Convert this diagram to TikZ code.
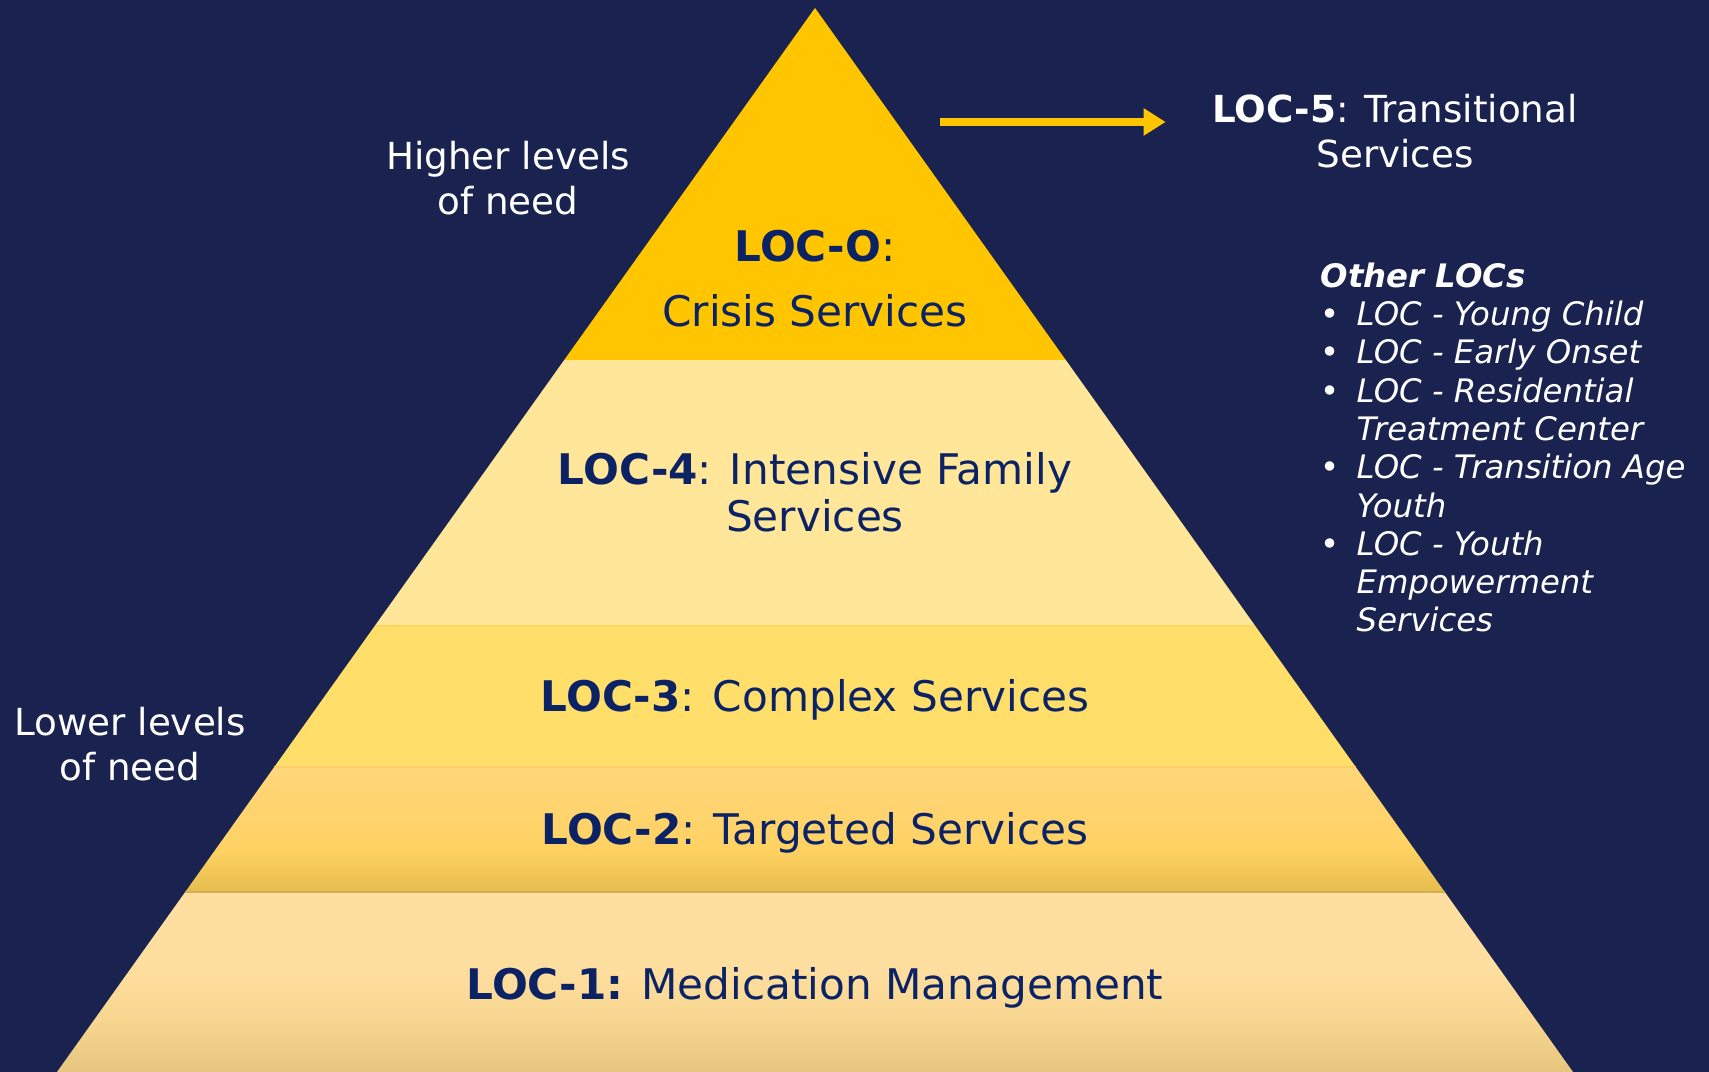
\documentclass[tikz,border=0pt]{standalone}
\usepackage{fontspec}
\setmainfont{DejaVu Sans}
\usetikzlibrary{calc, arrows.meta}

\definecolor{navy}{HTML}{1A2350}
\definecolor{locblue}{HTML}{0B2264}
\definecolor{gold}{HTML}{FFC600}
\definecolor{loc4fill}{HTML}{FFE699}
\definecolor{loc3fill}{HTML}{FFDE6A}
\definecolor{loc2top}{HTML}{FFD67A}
\definecolor{loc2mid}{HTML}{FFD262}
\definecolor{loc2bot}{HTML}{E6BC4E}
\definecolor{loc1top}{HTML}{FFDFA0}
\definecolor{loc1mid}{HTML}{F8D791}
\definecolor{loc1bot}{HTML}{E6C67E}

% band shadings (path spans 25bp..75bp)
\pgfdeclareverticalshading{loctwo}{100bp}{color(0bp)=(loc2bot); color(25bp)=(loc2bot);
    color(42bp)=(loc2mid); color(60bp)=(loc2top!60!loc2mid); color(75bp)=(loc2top); color(100bp)=(loc2top)}
\pgfdeclareverticalshading{locone}{100bp}{color(0bp)=(loc1bot); color(25bp)=(loc1bot);
    color(40bp)=(loc1mid); color(55bp)=(loc1top); color(75bp)=(loc1top); color(100bp)=(loc1top)}

\begin{document}
\begin{tikzpicture}[
    tier/.style={text=locblue, align=center, inner sep=0pt, font=\fontsize{12pt}{13.4pt}\selectfont},
    sidetext/.style={text=white, align=center, inner sep=0pt, font=\fontsize{10.6pt}{12.7pt}\selectfont},
    loclist/.style={text=white, align=left, inner sep=0pt, font=\fontsize{9.2pt}{10.9pt}\selectfont\itshape},
    sep/.style={line width=0.4pt},
    goldarrow/.style={gold, line width=2.3pt, -{Triangle[length=0.22cm, width=0.26cm]}}
]
    \useasboundingbox (0,0) rectangle (17.09,10.72);
    \fill[navy] (0,0) rectangle (17.09,10.72);

    % pyramid corners and band edges
    \coordinate (top) at (8.15,10.64);
    \coordinate (bl) at (0.57,0);
    \coordinate (br) at (15.73,0);
    \foreach \t/\n in {0.1692/1, 0.2867/2, 0.4192/3, 0.6692/4} {
        \coordinate (l\n) at ($(bl)!\t!(top)$);
        \coordinate (r\n) at ($(br)!\t!(top)$);
    }

    \shade[shading=locone] (bl) -- (br) -- (r1) -- (l1) -- cycle;
    \shade[shading=loctwo] (l1) -- (r1) -- (r2) -- (l2) -- cycle;
    \fill[loc3fill] (l2) -- (r2) -- (r3) -- (l3) -- cycle;
    \fill[loc4fill] (l3) -- (r3) -- (r4) -- (l4) -- cycle;
    \fill[gold] (l4) -- (r4) -- (top) -- cycle;

    \draw[sep, color=loc2bot!80!gray] (l1) -- (r1);
    \draw[sep, color=loc2top!90!orange] (l2) -- (r2);
    \draw[sep, color=loc3fill!90!orange] (l3) -- (r3);

    % levels
    \node[tier] (loc0) at (8.15,7.93) {\textbf{LOC-O}:\\[5pt]Crisis Services};
    \node[tier] (loc4) at (8.15,5.80) {\textbf{LOC-4}: Intensive Family\\Services};
    \node[tier] (loc3) at (8.15,3.725) {\textbf{LOC-3}: Complex Services};
    \node[tier] (loc2) at (8.15,2.395) {\textbf{LOC-2}: Targeted Services};
    \node[tier] (loc1) at (8.15,0.845) {\textbf{LOC-1:} Medication Management};

    \node[sidetext] (higher) at (5.08,8.94) {Higher levels\\of need};
    \node[sidetext] (lower) at (1.30,3.28) {Lower levels\\of need};
    \node[sidetext] (loc5) at (13.95,9.41) {\textbf{LOC-5}: Transitional\\Services};

    \coordinate (arrstart) at (9.40,9.50);
    \draw[goldarrow, shorten >=0.46cm] (arrstart) -- (arrstart -| loc5.west);

    \node[loclist, anchor=west] (others) at (13.20,6.245) {\textbf{Other LOCs}\\
        \makebox[0.36cm][l]{\textup{•}}LOC - Young Child\\
        \makebox[0.36cm][l]{\textup{•}}LOC - Early Onset\\
        \makebox[0.36cm][l]{\textup{•}}LOC - Residential\\
        \hspace*{0.36cm}Treatment Center\\
        \makebox[0.36cm][l]{\textup{•}}LOC - Transition Age\\
        \hspace*{0.36cm}Youth\\
        \makebox[0.36cm][l]{\textup{•}}LOC - Youth\\
        \hspace*{0.36cm}Empowerment\\
        \hspace*{0.36cm}Services};
\end{tikzpicture}
\end{document}
